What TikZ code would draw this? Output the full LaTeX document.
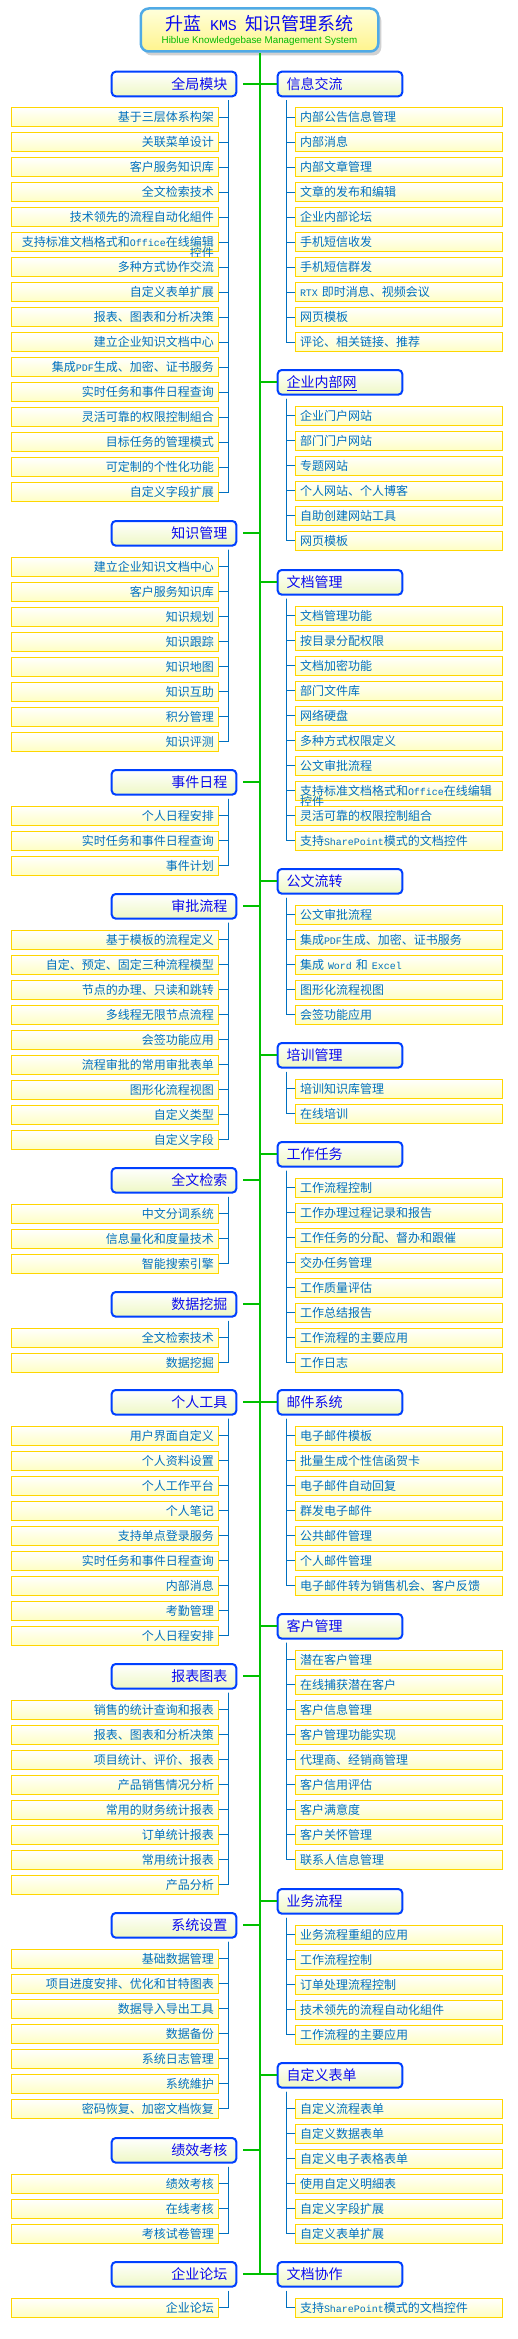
\documentclass[tikz,border=0pt]{standalone}
\usepackage{fontspec}
\setmainfont{Noto Sans CJK SC}
\newfontfamily\monofnt[Scale=0.83]{Liberation Mono}
\newfontfamily\subfnt{Liberation Sans}
\usetikzlibrary{calc,shadows}
\newcommand\m[1]{{\monofnt #1}}

\definecolor{trunkgreen}{RGB}{0,192,0}
\definecolor{leafblue}{RGB}{0,112,192}
\definecolor{catborder}{RGB}{0,64,255}
\definecolor{cattext}{RGB}{10,10,240}
\definecolor{leafborder}{RGB}{255,214,0}
\definecolor{leaffill}{RGB}{255,255,196}
\definecolor{catfill}{RGB}{238,248,196}
\definecolor{titleborder}{RGB}{80,170,230}
\definecolor{titletop}{RGB}{255,255,220}
\definecolor{titlebot}{RGB}{255,244,140}
\definecolor{subgreen}{RGB}{0,185,0}

\tikzset{
 trunk/.style={draw=trunkgreen, line width=2pt},
 leafline/.style={draw=leafblue, line width=1pt},
 catbox/.style={rectangle, rounded corners=4pt, draw=catborder, line width=2pt,
   top color=white, bottom color=catfill, minimum width=124.6pt, minimum height=24.6pt,
   inner xsep=9pt, inner ysep=0pt, text width=106.6pt, text=cattext,
   font=\fontsize{14}{16}\selectfont, text height=12.3pt, text depth=1.7pt},
 catL/.style={catbox, align=right},
 catR/.style={catbox, align=left},
 leafbox/.style={rectangle, draw=leafborder, line width=1pt, top color=white,
   bottom color=leaffill, minimum width=207.6pt, minimum height=19pt,
   inner xsep=5pt, inner ysep=0pt, text width=197.6pt, text=leafblue,
   font=\fontsize{12}{14}\selectfont, text height=10.6pt, text depth=1.4pt},
 leafL/.style={leafbox, align=right},
 leafR/.style={leafbox, align=left},
 titlebox/.style={rectangle, rounded corners=8pt, draw=titleborder, line width=2.5pt,
   top color=titletop, bottom color=titlebot, minimum width=237.5pt, minimum height=43pt,
   drop shadow={shadow xshift=3pt, shadow yshift=-4pt, fill=black!40, opacity=0.45}},
}

\newcommand\groupL[4]{%
  \node[catL] (#1) at (174,#2+13.3) {#3};
  \draw[trunk, shorten <=6pt] (#1.east) -- (#1.east -| title.south);
  \foreach \itm [count=\idx] in {#4}{%
    \node[leafL] (#1-\idx) at (115,#2+46.5+25*\idx-25) {\itm};
    \draw[leafline] ($(#1.south east)+(-9,3)$) |- (#1-\idx.east);
  }%
}
\newcommand\groupR[4]{%
  \node[catR] (#1) at (340,#2+13.3) {#3};
  \draw[trunk] (#1.west -| title.south) -- (#1.west);
  \foreach \itm [count=\idx] in {#4}{%
    \node[leafR] (#1-\idx) at (398.8,#2+46.5+25*\idx-25) {\itm};
    \draw[leafline] ($(#1.south west)+(10,3)$) |- (#1-\idx.west);
  }%
}

\begin{document}
\begin{tikzpicture}[x=1pt,y=-1pt]
\useasboundingbox (0,0) rectangle (518,2339);
\fill[white] (0,0) rectangle (518,2339);

\node[titlebox] (title) at (259.5,30) {};
\node[font=\fontsize{18}{20}\selectfont, text=cattext, text height=15.84pt, text depth=2.16pt, inner sep=0pt] (titlet) at (259.5,24) {升蓝\m{ KMS }知识管理系统};
\node[font=\subfnt\fontsize{9.8}{12}\selectfont, text=subgreen, text height=7.2pt, text depth=0pt, inner sep=0pt] (titles) at (259.5,39.5) {Hiblue Knowledgebase Management System};

\groupL{L1}{70.7}{全局模块}{基于三层体系构架,%
关联菜单设计,%
客户服务知识库,%
全文检索技术,%
技术领先的流程自动化組件,%
支持标准文档格式和\m{Office}在线编辑\llap{\raisebox{-11pt}{控件}},%
多种方式协作交流,%
自定义表单扩展,%
报表、图表和分析决策,%
建立企业知识文档中心,%
集成\m{PDF}生成、加密、证书服务,%
实时任务和事件日程查询,%
灵活可靠的权限控制組合,%
目标任务的管理模式,%
可定制的个性化功能,%
自定义字段扩展}
\groupL{L2}{520}{知识管理}{建立企业知识文档中心,%
客户服务知识库,%
知识规划,%
知识跟踪,%
知识地图,%
知识互助,%
积分管理,%
知识评测}
\groupL{L3}{769}{事件日程}{个人日程安排,%
实时任务和事件日程查询,%
事件计划}
\groupL{L4}{893}{审批流程}{基于模板的流程定义,%
自定、预定、固定三种流程模型,%
节点的办理、只读和跳转,%
多线程无限节点流程,%
会签功能应用,%
流程审批的常用审批表单,%
图形化流程视图,%
自定义类型,%
自定义字段}
\groupL{L5}{1167}{全文检索}{中文分词系统,%
信息量化和度量技术,%
智能搜索引擎}
\groupL{L6}{1291}{数据挖掘}{全文检索技术,%
数据挖掘}
\groupL{L7}{1389}{个人工具}{用户界面自定义,%
个人资料设置,%
个人工作平台,%
个人笔记,%
支持单点登录服务,%
实时任务和事件日程查询,%
内部消息,%
考勤管理,%
个人日程安排}
\groupL{L8}{1663}{报表图表}{销售的统计查询和报表,%
报表、图表和分析决策,%
项目统计、评价、报表,%
产品销售情况分析,%
常用的财务统计报表,%
订单统计报表,%
常用统计报表,%
产品分析}
\groupL{L9}{1912}{系统设置}{基础数据管理,%
项目进度安排、优化和甘特图表,%
数据导入导出工具,%
数据备份,%
系统日志管理,%
系统維护,%
密码恢复、加密文档恢复}
\groupL{L10}{2137}{绩效考核}{绩效考核,%
在线考核,%
考核试卷管理}
\groupL{L11}{2261}{企业论坛}{企业论坛}

\groupR{R1}{70.7}{信息交流}{内部公告信息管理,%
内部消息,%
内部文章管理,%
文章的发布和编辑,%
企业内部论坛,%
手机短信收发,%
手机短信群发,%
\m{RTX }即时消息、视频会议,%
网页模板,%
评论、相关链接、推荐}
\groupR{R2}{369}{\underline{企业内部网}}{企业门户网站,%
部门门户网站,%
专题网站,%
个人网站、个人博客,%
自助创建网站工具,%
网页模板}
\groupR{R3}{569}{文档管理}{文档管理功能,%
按目录分配权限,%
文档加密功能,%
部门文件库,%
网络硬盘,%
多种方式权限定义,%
公文审批流程,%
\rlap{\raisebox{-11pt}{控件}}支持标准文档格式和\m{Office}在线编辑,%
灵活可靠的权限控制組合,%
支持\m{SharePoint}模式的文档控件}
\groupR{R4}{868}{公文流转}{公文审批流程,%
集成\m{PDF}生成、加密、证书服务,%
集成\m{ Word }和\m{ Excel},%
图形化流程视图,%
会签功能应用}
\groupR{R5}{1042}{培训管理}{培训知识库管理,%
在线培训}
\groupR{R6}{1141}{工作任务}{工作流程控制,%
工作办理过程记录和报告,%
工作任务的分配、督办和跟催,%
交办任务管理,%
工作质量评估,%
工作总结报告,%
工作流程的主要应用,%
工作日志}
\groupR{R7}{1389}{邮件系统}{电子邮件模板,%
批量生成个性信函贺卡,%
电子邮件自动回复,%
群发电子邮件,%
公共邮件管理,%
个人邮件管理,%
电子邮件转为销售机会、客户反馈}
\groupR{R8}{1613}{客户管理}{潜在客户管理,%
在线捕获潜在客户,%
客户信息管理,%
客户管理功能实现,%
代理商、经销商管理,%
客户信用评估,%
客户满意度,%
客户关怀管理,%
联系人信息管理}
\groupR{R9}{1888}{业务流程}{业务流程重組的应用,%
工作流程控制,%
订单处理流程控制,%
技术领先的流程自动化組件,%
工作流程的主要应用}
\groupR{R10}{2062}{自定义表单}{自定义流程表单,%
自定义数据表单,%
自定义电子表格表单,%
使用自定义明細表,%
自定义字段扩展,%
自定义表单扩展}
\groupR{R11}{2261}{文档协作}{支持\m{SharePoint}模式的文档控件}

\draw[trunk] (title.south) -- (title.south |- L11.east);
\end{tikzpicture}
\end{document}
